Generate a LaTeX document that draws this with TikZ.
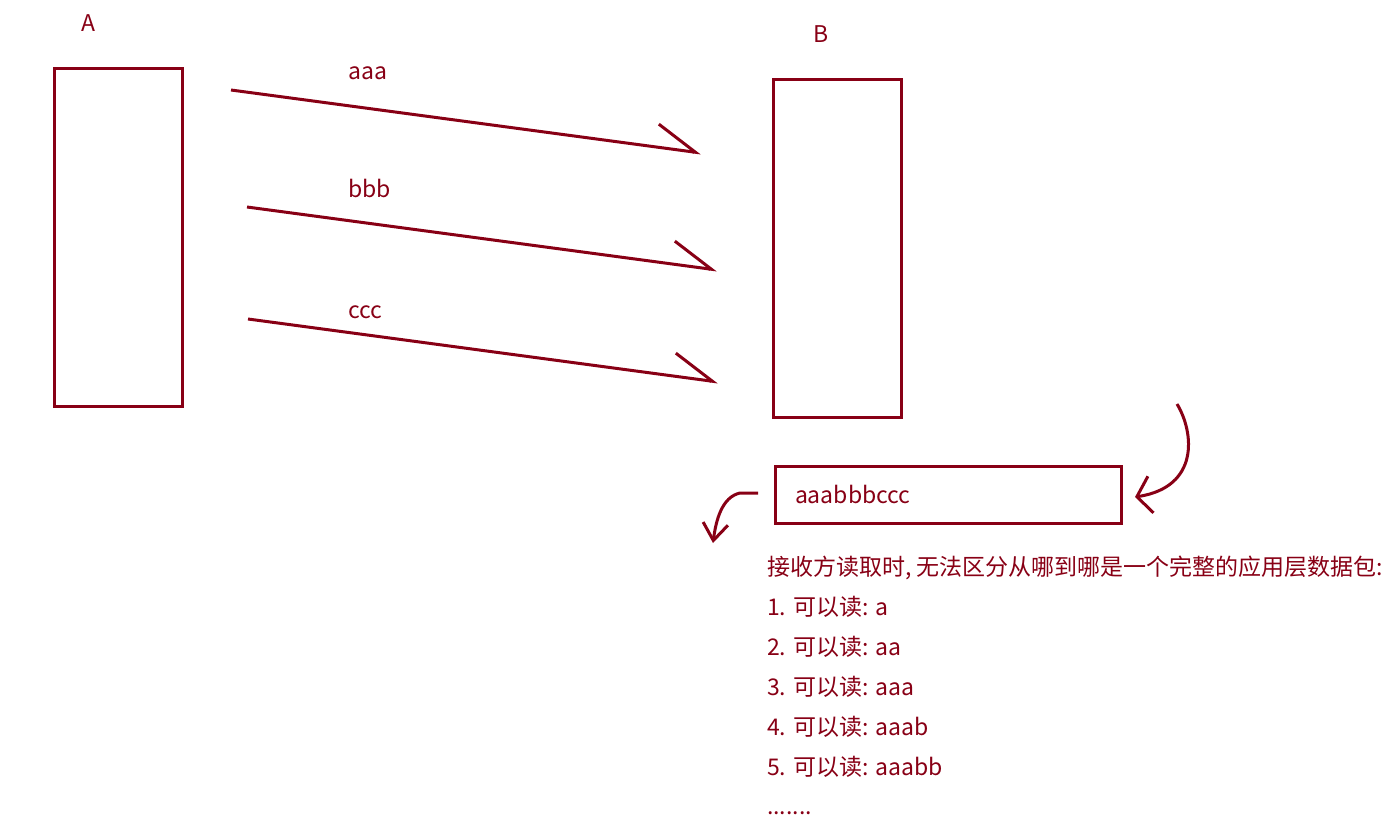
\documentclass[tikz,border=0pt]{standalone}
\usepackage{fontspec}
\setmainfont{Noto Sans CJK SC}
\usetikzlibrary{arrows.meta}
\definecolor{inkred}{RGB}{136,0,21}

\begin{document}
\begin{tikzpicture}[x=1pt, y=-1pt,
    host/.style={draw=inkred, line width=3pt, minimum width=128, minimum height=338, inner sep=0pt},
    buffer/.style={draw=inkred, line width=3pt, minimum width=346, minimum height=57, text width=306, inner xsep=20pt, inner ysep=0pt, align=left, text=inkred, font=\fontsize{23}{27}\selectfont},
    lbl/.style={text=inkred, font=\fontsize{23}{27}\selectfont, inner sep=0pt},
    send/.style={inkred, line width=3pt, -{Straight Barb[left, length=40pt, width=46pt]}},
    curl/.style={inkred, line width=3pt}
]
\useasboundingbox (0,0) rectangle (1397,825);

% Hosts
\node[host] (A) at (118,237) {};
\node[host] (B) at (837,248) {};
\node[lbl, anchor=base] (labA) at (88,31) {A};
\node[lbl, anchor=base] (labB) at (821,42) {B};

% Segments sent from A to B
\coordinate (s1) at (231,90);  \coordinate (t1) at (701,153);
\coordinate (s2) at (247,207); \coordinate (t2) at (717,270);
\coordinate (s3) at (248,319); \coordinate (t3) at (718,382);
\draw[send] (s1) -- (t1);
\draw[send] (s2) -- (t2);
\draw[send] (s3) -- (t3);
\node[lbl, anchor=base west] (m1) at (348,79) {aaa};
\node[lbl, anchor=base west] (m2) at (348,197) {bbb};
\node[lbl, anchor=base west] (m3) at (348,318) {ccc};

% Receive buffer
\node[buffer] (buf) at (948,494.5) {aaabbbccc};

% Into the buffer
\coordinate (inS) at (1177,404);
\coordinate (inT) at (1135,497);
\draw[curl, -{Straight Barb[length=14pt, width=37pt]}] (inS) .. controls (1194,432) and (1200,487) .. (inT);

% Out of the buffer
\coordinate (outS) at (758,493);
\coordinate (outT) at (713,543);
\draw[curl, -{Straight Barb[length=17pt, width=25pt]}] (outS) -- (740,493) .. controls (722,497) and (716,520) .. (outT);

% Reading
\foreach \txt [count=\i] in {{接收方读取时, 无法区分从哪到哪是一个完整的应用层数据包:},
    {1. 可以读: a}, {2. 可以读: aa}, {3. 可以读: aaa}, {4. 可以读: aaab}, {5. 可以读: aaabb}}
    \node[lbl, anchor=base west] (note\i) at (767,535+40*\i) {\txt};
\node[lbl, anchor=base west] (note7) at (767,814) {.......};

\end{tikzpicture}
\end{document}
